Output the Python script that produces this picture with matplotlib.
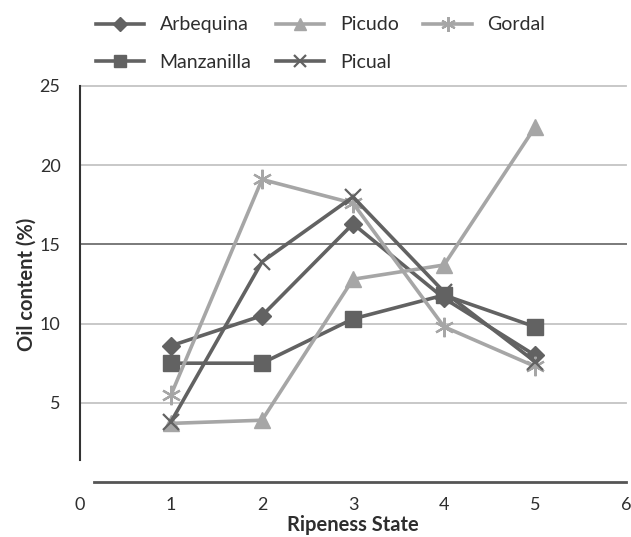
import matplotlib
matplotlib.use("Agg")
import matplotlib.pyplot as plt

plt.rcParams['font.family'] = ['Lato', 'DejaVu Sans']

ripeness = [1, 2, 3, 4, 5]
arbequina = [8.6, 10.5, 16.3, 11.6, 8.0]
manzanilla = [7.5, 7.5, 10.3, 11.8, 9.8]
picudo = [3.7, 3.9, 12.8, 13.7, 22.4]
gordal = [5.5, 19.1, 17.6, 9.8, 7.3]
picual = [3.8, 13.9, 18.0, 12.0, 7.6]

x_ticks = [0, 1, 2, 3, 4, 5, 6]
y_ticks = [5, 10, 15, 20, 25]

dark = '#626262'
light = '#a6a6a6'
text_c = '#2e2e2e'

fig = plt.figure(figsize=(6.31, 5.37), dpi=100)
ax = fig.add_axes([80/631, 55/537, 546/631, 396/537])
ax.set_xlim(0, 6)
ax.set_ylim(0, 25)

for y in y_ticks:
    ax.axhline(y, color='#7a7a7a' if y == 15 else '#c4c4c4', lw=1.4 if y == 15 else 1.3,
               zorder=1, clip_on=False)

lw = 2.6
l_arb, = ax.plot(ripeness, arbequina, color=dark, lw=lw, marker='D', ms=9.5, label='Arbequina', zorder=3)
l_man, = ax.plot(ripeness, manzanilla, color=dark, lw=lw, marker='s', ms=12, label='Manzanilla', zorder=3)
l_pic, = ax.plot(ripeness, picudo, color=light, lw=lw, marker='^', ms=12, label='Picudo', zorder=3)
l_gor, = ax.plot(ripeness, gordal, color=light, lw=lw, marker=(6, 2, 0), ms=14, mew=1.6, label='Gordal', zorder=3)
l_pil, = ax.plot(ripeness, picual, color=dark, lw=lw, marker='x', ms=12, mew=1.6, label='Picual', zorder=3)

for s in ['top', 'right']:
    ax.spines[s].set_visible(False)
ax.spines['left'].set_bounds(1.4, 25)
ax.spines['left'].set_color('#333333')
ax.spines['left'].set_linewidth(1.5)
ax.spines['bottom'].set_bounds(0.15, 6)
ax.spines['bottom'].set_color('#555555')
ax.spines['bottom'].set_linewidth(2)

ax.set_xticks(x_ticks)
ax.set_xticklabels([str(t) for t in x_ticks])
ax.set_yticks(y_ticks)
ax.set_yticklabels([str(t) for t in y_ticks])
ax.tick_params(axis='both', length=0, labelsize=13, colors=text_c)
ax.tick_params(axis='x', pad=11)
ax.tick_params(axis='y', pad=14)

ax.set_xlabel('Ripeness State', fontsize=14.5, fontweight='bold', color=text_c, labelpad=1)
ax.set_ylabel('Oil content (%)', fontsize=14.5, fontweight='bold', color=text_c, labelpad=2)

handles = [l_arb, l_man, l_pic, l_pil, l_gor]
fig.legend(handles=handles, labels=[h.get_label() for h in handles], ncol=3,
           loc='upper left', bbox_to_anchor=(78/631, 1 + 1/537), frameon=False,
           fontsize=14, handlelength=2.5, columnspacing=1.25, handletextpad=0.8,
           labelspacing=1.05, labelcolor=text_c, markerscale=0.75)

fig.savefig('out.png', dpi=100)
